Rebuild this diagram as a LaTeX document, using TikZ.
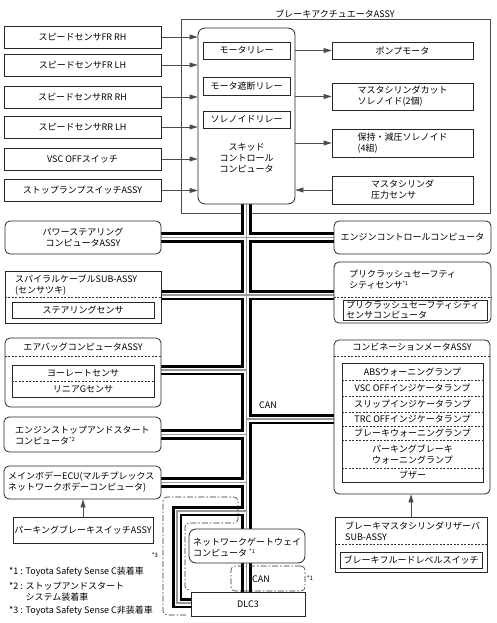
\documentclass[tikz,border=0pt]{standalone}
\usepackage{fontspec}
\setmainfont{Noto Sans CJK JP}
\usetikzlibrary{arrows.meta,calc}
\pgfdeclarelayer{back}
\pgfdeclarelayer{bus}
\pgfsetlayers{back,bus,main}
\newcommand\supn[1]{\raisebox{3pt}{\fontsize{5.5}{6}\selectfont #1}}
\begin{document}
\begin{tikzpicture}[x=1pt,y=-1pt,
  every node/.style={font=\fontsize{9}{11}\selectfont, inner sep=0pt},
  wh/.style 2 args={minimum width=#1pt, minimum height=#2pt},
  box/.style={draw=black!85, line width=0.8pt, fill=white, align=center},
  rbox/.style={box, rounded corners=5pt},
  txt/.style={align=left, anchor=west},
  arr/.style={draw=black!70, line width=0.8pt, -{Triangle[length=8pt,width=5pt]}},
  dsh/.style={draw=black!80, line width=0.6pt, dash pattern=on 2pt off 1.5pt},
  dd/.style={draw=black!80, line width=0.6pt, dash pattern=on 6pt off 2pt on 1.5pt off 2pt, rounded corners=4pt},
]
\useasboundingbox (0,0) rectangle (496,623);

\node (title) at (335,14) {ブレーキアクチュエータASSY};
\begin{pgfonlayer}{back}
\node[draw=black!70, line width=0.8pt, wh={309}{194}] (assy) at (335.5,116) {};
\end{pgfonlayer}

% skid control computer
\node[rbox, rounded corners=7pt, wh={97}{176}] (skid) at (246.5,116) {};
\node[align=center] (skidt) at (246.5,158) {スキッド\\コントロール\\コンピュータ};
\node[box, wh={87}{17}] (r1) at (246.5,50.5) {モータリレー};
\node[box, wh={87}{18}] (r2) at (246.5,86) {モータ遮断リレー};
\node[box, wh={87}{17}] (r3) at (246.5,119.5) {ソレノイドリレー};

% left sensors
\node[box, wh={157}{22}] (s1) at (82.5,37) {スピードセンサFR RH};
\node[box, wh={157}{22}] (s2) at (82.5,65) {スピードセンサFR LH};
\node[box, wh={157}{22}] (s3) at (82.5,97) {スピードセンサRR RH};
\node[box, wh={157}{22}] (s4) at (82.5,127) {スピードセンサRR LH};
\node[box, wh={157}{22}] (s5) at (82.5,159) {VSC OFFスイッチ};
\node[box, wh={157}{22}] (s6) at (82.5,190.5) {ストップランプスイッチASSY};
\foreach \s in {s1,s2,s3,s4,s5,s6}
  \draw[arr] (\s.east) -- (\s.east -| skid.west);

% right actuators
\node[box, wh={141}{17}] (pm) at (402.5,50.5) {ポンプモータ};
\node[box, wh={141}{27}, align=left] (mc) at (402.5,96.5) {マスタシリンダカット\\ソレノイド(2個)};
\node[box, wh={141}{28}, align=left] (hj) at (402.5,143) {保持・減圧ソレノイド\\(4組)};
\node[box, wh={141}{28}, align=left] (mp) at (402.5,190) {マスタシリンダ\\圧力センサ};
\draw[arr] (skid.east |- pm.west) -- (pm.west);
\draw[arr] (skid.east |- mc.west) -- (mc.west);
\draw[arr] (skid.east |- hj.west) -- (hj.west);
\draw[arr] (mp.west) -- (mp.west -| skid.east);

% lower left
\node[rbox, wh={156}{33}] (ps) at (83,237.5) {パワーステアリング\\コンピュータASSY};
\node[box, wh={156}{52}] (sp) at (83,297) {};
\node[txt] (spt) at (15,285) {スパイラルケーブルSUB-ASSY\\(センサツキ)};
\draw[dsh] (sp.west |- 0,297) -- (sp.east |- 0,297);
\node[box, wh={142}{16}] (st) at (83,310) {ステアリングセンサ};

\node[rbox, wh={156}{69}] (ab) at (83,372.5) {};
\node (abt) at (83,347) {エアバッグコンピュータASSY};
\draw[dsh] (ab.west |- 0,356) -- (ab.east |- 0,356);
\node[box, wh={142}{32}] (abin) at (83,381) {};
\draw[dsh] (abin.west) -- (abin.east);
\node (yr) at (83,373) {ヨーレートセンサ};
\node (lg) at (83,389) {リニアGセンサ};

\node[rbox, wh={157}{35}] (es) at (82.5,434.5) {};
\node[txt] (est) at (15,435) {エンジンストップアンドスタート\\コンピュータ\supn{*2}};

\node[rbox, wh={157}{33}] (mb) at (82.5,482.5) {};
\node[txt] (mbt) at (8,482.5) {メインボデーECU(マルチプレックス\\ネットワークボデーコンピュータ)};
\node[box, wh={140}{26}] (pb) at (83,530) {パーキングブレーキスイッチASSY};
\draw[arr] (pb.north) -- (pb.north |- mb.south);

% right side
\node[rbox, wh={157}{33}] (ec) at (412.5,237.5) {エンジンコントロールコンピュータ};
\node[rbox, wh={157}{61}] (pc) at (412.5,292.5) {};
\node[txt] (pct) at (349,280) {プリクラッシュセーフティ\\シティセンサ\supn{*1}};
\draw[dsh] (pc.west |- 0,297) -- (pc.east |- 0,297);
\node[box, wh={144}{20}] (pcin) at (415,310) {};
\node[txt, font=\fontsize{9}{9.5}\selectfont] (pcit) at (346,310) {プリクラッシュセーフティシティ\\センサコンピュータ};

\node[rbox, wh={156}{154}] (cm) at (412,417) {};
\node (cmt) at (412,347) {コンビネーションメータASSY};
\draw[dsh] (cm.west |- 0,356) -- (cm.east |- 0,356);
\node[box, wh={141}{119}] (cmin) at (412.5,422.5) {};
\foreach \y in {380,396,412,426,440,468}
  \draw[dsh] (cmin.west |- 0,\y) -- (cmin.east |- 0,\y);
\node (l1) at (412.5,372) {ABSウォーニングランプ};
\node (l2) at (412.5,388) {VSC OFFインジケータランプ};
\node (l3) at (412.5,404) {スリップインジケータランプ};
\node (l4) at (412.5,419) {TRC OFFインジケータランプ};
\node (l5) at (412.5,433) {ブレーキウォーニングランプ};
\node[align=center] (l6) at (412.5,454) {パーキングブレーキ\\ウォーニングランプ};
\node (l7) at (412.5,475) {ブザー};

\node[box, wh={152}{55}] (rv) at (411,544.5) {};
\node[txt] (rvt) at (345,531) {ブレーキマスタシリンダリザーバ\\SUB-ASSY};
\draw[dsh] (rv.west |- 0,544) -- (rv.east |- 0,544);
\node[box, wh={142}{16}] (fl) at (411,560) {ブレーキフルードレベルスイッチ};
\draw[arr] (rv.north) -- (rv.north |- cm.south);

% bottom
\node[rbox, rounded corners=7pt, wh={116}{34}] (gw) at (247,546) {};
\node[txt] (gwt) at (193,547.5) {ネットワークゲートウェイ\\コンピュータ \supn{*1}};
\node[draw=black!80, dd, wh={74}{25}] (canb) at (268,578.5) {};
\node (cant) at (261,579) {CAN};
\node (n1) at (310,578) {\fontsize{6}{6}\selectfont *1};
\node[box, wh={114}{24}] (dlc) at (248,604) {DLC3};
\node (can) at (268,405) {CAN};
\node (n3) at (155,555) {\fontsize{6}{6}\selectfont *3};
\draw[dd] (186,615) -- (163,615) -- (163,497) -- (238,497) -- (238,523) -- (185,523) -- (185,590) -- (191,590);

% notes
\node[txt] (m1) at (9,572) {*1 : Toyota Safety Sense C装着車};
\node[txt] (m2) at (9,592) {*2 : ストップアンドスタート\\\phantom{*2 : }システム装着車};
\node[txt] (m3) at (9,611) {*3 : Toyota Safety Sense C非装着車};

% CAN bus
\begin{pgfonlayer}{bus}
\foreach \w/\c in {10.5/black, 5/white, 1.2/black!40}{
  \draw[line width=\w pt, draw=\c]
    (skid.south) -- (skid.south |- dlc.north)
    (ps.east) -- (ec.west)
    (sp.east |- 0,295) -- (pc.west |- 0,295)
    (ab.east |- 0,370) -- (skid.south |- 0,370)
    (cm.west |- 0,419) -- (skid.south |- 0,419)
    (es.east) -- (es.east -| skid.south)
    (mb.east) -- (mb.east -| skid.south)
    (skid.south |- 0,511) -- (177,511) -- (177,603) -- (dlc.west |- 0,603);
}
\end{pgfonlayer}
\end{tikzpicture}
\end{document}
